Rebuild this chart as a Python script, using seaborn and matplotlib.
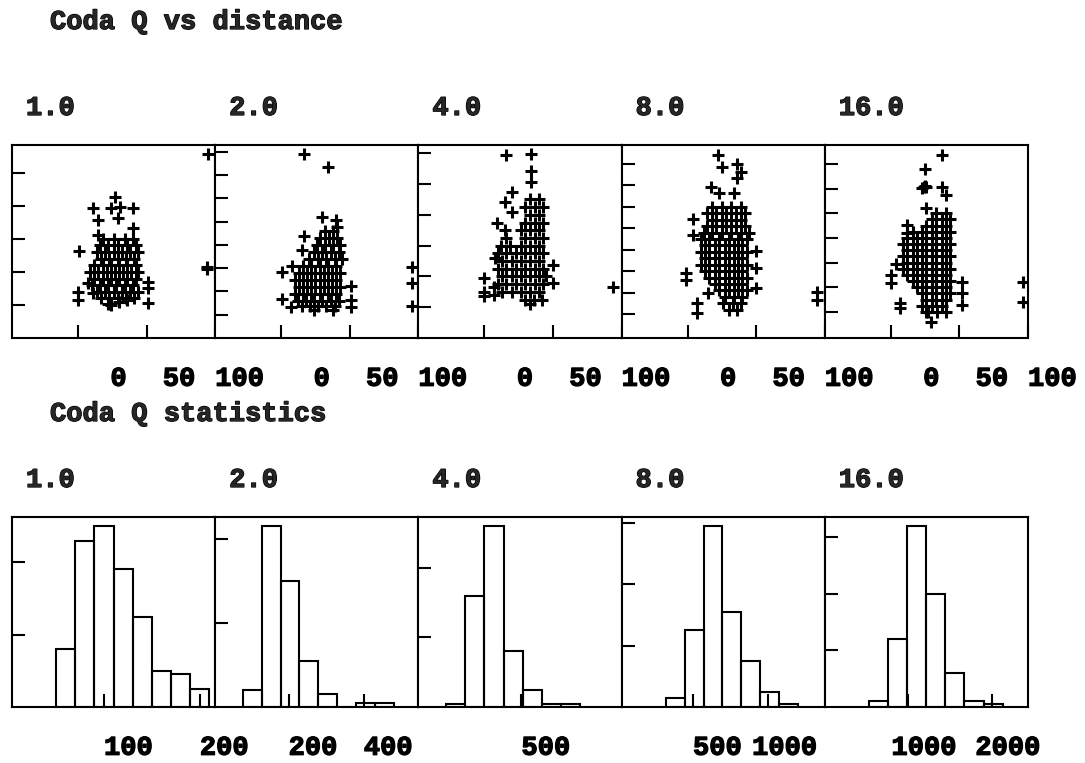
import matplotlib
matplotlib.use("Agg")
import numpy as np
import pandas as pd
import matplotlib.pyplot as plt
import matplotlib.transforms as mtrans
import matplotlib.patheffects as pe
import seaborn as sns

freqs = ["1.0", "2.0", "4.0", "8.0", "16.0"]

# Coda Q vs distance: (distance, Q)
pts_1hz = [
    (0.5, 132), (0, 70), (0, 58), (7, 83), (11, 68), (51, 85), (51, 76), (51, 53),
    (95, 279), (94, 108), (94, 104),
    (27, 214), (11, 197), (24, 197), (31, 198), (40, 197), (15, 179), (29, 182),
    (40, 167), (15, 156), (22, 52), (24, 50), (30, 55), (36, 58),
    (18, 150), (26, 150), (34, 150), (40, 150),
    (16, 140), (22, 140), (29, 140), (36, 140), (42, 140),
    (14, 130), (20, 130), (26, 130), (32, 130), (38, 130), (44, 130),
    (17, 120), (23, 120), (29, 120), (35, 120), (41, 120),
    (12, 110), (18, 110), (24, 110), (30, 110), (36, 110), (42, 110),
    (9, 100), (15, 100), (21, 100), (27, 100), (33, 100), (39, 100), (44, 100),
    (12, 90), (18, 90), (24, 90), (30, 90), (36, 90), (42, 90),
    (10, 80), (16, 80), (22, 80), (28, 80), (34, 80), (40, 80),
    (14, 70), (20, 70), (26, 70), (32, 70), (38, 70), (44, 70),
    (17, 60), (23, 60), (29, 60), (35, 60), (41, 60),
]

pts_2hz = [
    (17, 395), (34, 367), (17, 219), (1, 142), (1, 84), (7, 67), (51, 112), (51, 82),
    (51, 67), (95, 152), (95, 118), (95, 69), (8, 155), (15, 189), (30, 260),
    (40, 253), (41, 238),
    (32, 230), (38, 230),
    (28, 215), (35, 215), (41, 215),
    (26, 200), (32, 200), (38, 200), (43, 200),
    (24, 185), (30, 185), (36, 185), (42, 185),
    (20, 170), (27, 170), (33, 170), (39, 170), (44, 170),
    (16, 155), (22, 155), (28, 155), (34, 155), (40, 155),
    (13, 140), (19, 140), (25, 140), (31, 140), (37, 140), (43, 140),
    (10, 125), (16, 125), (22, 125), (28, 125), (34, 125), (40, 125),
    (13, 110), (19, 110), (25, 110), (31, 110), (37, 110), (43, 110),
    (10, 95), (16, 95), (22, 95), (28, 95), (34, 95), (40, 95),
    (12, 80), (18, 80), (24, 80), (30, 80), (36, 80), (42, 80),
    (15, 68), (21, 68), (27, 68), (33, 68), (39, 68),
    (24, 60), (38, 60),
]

pts_4hz = [
    (16, 594), (34, 597), (34, 542), (34, 506), (20, 474), (15, 442), (20, 409),
    (0, 195), (0, 149), (0, 136), (7, 166), (7, 140), (50, 237), (50, 179),
    (94, 166), (8, 260), (9, 373), (15, 351),
    (33, 450), (40, 450),
    (30, 425), (37, 425), (43, 425),
    (33, 400), (40, 400),
    (30, 375), (37, 375), (43, 375),
    (27, 350), (33, 350), (40, 350),
    (16, 325), (30, 325), (37, 325), (43, 325),
    (12, 300), (19, 300), (27, 300), (33, 300), (40, 300),
    (10, 275), (16, 275), (23, 275), (30, 275), (37, 275), (43, 275),
    (13, 250), (20, 250), (27, 250), (33, 250), (40, 250),
    (10, 225), (16, 225), (23, 225), (30, 225), (37, 225), (43, 225),
    (13, 200), (20, 200), (27, 200), (33, 200), (40, 200), (45, 200),
    (10, 175), (16, 175), (23, 175), (30, 175), (37, 175), (43, 175),
    (13, 150), (20, 150), (27, 150), (33, 150), (40, 150),
    (30, 125), (36, 125), (42, 125),
    (33, 110),
]

pts_8hz = [
    (22, 942), (25, 886), (36, 900), (39, 863), (36, 835), (17, 793), (23, 765),
    (34, 765), (4, 643), (4, 569), (12, 578), (-1, 391), (-1, 359), (15, 298),
    (7, 251), (7, 205), (50, 494), (50, 415), (50, 321), (94, 303), (94, 265),
    (18, 700), (25, 700), (32, 700), (39, 700),
    (14, 670), (21, 670), (28, 670), (35, 670), (42, 670),
    (18, 640), (25, 640), (32, 640), (39, 640),
    (14, 610), (21, 610), (28, 610), (35, 610), (42, 610),
    (18, 580), (25, 580), (32, 580), (39, 580), (45, 580),
    (10, 550), (16, 550), (23, 550), (30, 550), (37, 550), (43, 550),
    (13, 520), (20, 520), (27, 520), (34, 520), (40, 520),
    (10, 490), (16, 490), (23, 490), (30, 490), (37, 490), (43, 490),
    (13, 460), (20, 460), (27, 460), (34, 460), (40, 460),
    (10, 430), (16, 430), (23, 430), (30, 430), (37, 430), (43, 430),
    (13, 400), (20, 400), (27, 400), (34, 400), (40, 400),
    (16, 370), (23, 370), (30, 370), (37, 370), (43, 370),
    (20, 340), (27, 340), (34, 340), (40, 340),
    (23, 310), (30, 310), (37, 310), (43, 310),
    (27, 280), (34, 280), (40, 280),
    (26, 250), (33, 250), (39, 250),
    (30, 220), (36, 220),
]

pts_16hz = [
    (37, 1473), (25, 1359), (24, 1214), (25, 1220), (23, 1208), (26, 1214),
    (37, 1214), (40, 1149), (26, 1043), (12, 905), (12, 841), (4, 589), (0, 500),
    (0, 435), (7, 273), (7, 232), (52, 443), (52, 354), (52, 257), (96, 443),
    (96, 281), (29, 119), (26, 200),
    (33, 1000), (40, 1000),
    (30, 950), (37, 950), (43, 950),
    (26, 900), (33, 900), (40, 900),
    (16, 850), (23, 850), (30, 850), (37, 850), (43, 850),
    (12, 800), (19, 800), (26, 800), (33, 800), (40, 800),
    (9, 750), (16, 750), (23, 750), (30, 750), (37, 750), (43, 750),
    (12, 700), (19, 700), (26, 700), (33, 700), (40, 700),
    (9, 650), (16, 650), (23, 650), (30, 650), (37, 650), (43, 650),
    (12, 600), (19, 600), (26, 600), (33, 600), (40, 600),
    (9, 550), (16, 550), (23, 550), (30, 550), (37, 550), (43, 550),
    (12, 500), (19, 500), (26, 500), (33, 500), (40, 500),
    (16, 450), (23, 450), (30, 450), (37, 450), (43, 450),
    (19, 400), (26, 400), (33, 400), (40, 400),
    (23, 350), (30, 350), (37, 350), (43, 350),
    (26, 300), (33, 300), (40, 300),
    (23, 250), (30, 250), (37, 250),
    (27, 200), (34, 200), (40, 200),
]

scatter_pts = [pts_1hz, pts_2hz, pts_4hz, pts_8hz, pts_16hz]
dist_ticks = [0, 50, 100]
q_ylims = [(0, 292), (0, 415), (0, 627), (88, 989), (-11, 1554)]
q_yticks = [
    [50, 100, 150, 200, 250],
    [50, 100, 150, 200, 250, 300, 350, 400],
    [100, 200, 300, 400, 500, 600],
    [200, 300, 400, 500, 600, 700, 800, 900],
    [200, 400, 600, 800, 1000, 1200, 1400],
]

# Coda Q statistics: bin edges and counts per band
edges_1hz = [50, 70, 90, 110, 130, 150, 170, 190, 210]
counts_1hz = [16, 46, 50, 38, 25, 10, 9, 5]
edges_2hz = [79, 129, 179, 229, 279, 329, 379, 429, 479]
counts_2hz = [4, 43, 30, 11, 3, 0, 1, 1]
edges_4hz = [185, 265, 345, 425, 505, 585, 665, 745]
counts_4hz = [1, 32, 52, 16, 5, 1, 1]
edges_8hz = [320, 445, 570, 695, 820, 945, 1070, 1195]
counts_8hz = [3, 25, 59, 31, 15, 5, 1]
edges_16hz = [542, 769, 996, 1223, 1450, 1677, 1904, 2131]
counts_16hz = [2, 24, 64, 40, 12, 2, 1]

hist_edges = [edges_1hz, edges_2hz, edges_4hz, edges_8hz, edges_16hz]
hist_counts = [counts_1hz, counts_2hz, counts_4hz, counts_8hz, counts_16hz]
hist_xlims = [(4, 216), (5, 545), (69, 919), (26, 1375), (12, 2434)]
hist_xticks = [[100, 200], [200, 400], [500], [500, 1000], [1000, 2000]]
hist_yticks = [[20, 40], [20, 40], [20, 40], [20, 40, 60], [20, 40, 60]]

sns.set_style("white")
plt.rcParams['font.family'] = ['Liberation Mono', 'DejaVu Sans Mono']
plt.rcParams['font.weight'] = 'bold'
FS = 19.5
LW = 1.5
heavy = [pe.withStroke(linewidth=0.9, foreground='black')]

W, H = 1085, 763
fig = plt.figure(figsize=(W / 100, H / 100), dpi=100)

left_px, right_px = 12, 1028
pw = (right_px - left_px) / 5
# label right edge sits three character cells past the tick
label_shift = mtrans.ScaledTranslation(3 * 0.6 * FS / 72, 0, fig.dpi_scale_trans)


def style_axis(ax, xticks, yticks):
    ax.set_xticks(xticks)
    ax.set_xticklabels([str(t) for t in xticks])
    ax.set_yticks(yticks)
    ax.tick_params(direction='in', length=9.5, width=LW, labelsize=FS,
                   labelleft=False, pad=20, top=False, right=False,
                   left=True, bottom=True, colors='black')
    for lab in ax.get_xticklabels():
        lab.set_horizontalalignment('right')
        lab.set_transform(lab.get_transform() + label_shift)
        lab.set_path_effects(heavy)
    for sp in ax.spines.values():
        sp.set_linewidth(LW)
        sp.set_color('black')
    ax.set_xlabel('')
    ax.set_ylabel('')


# top row: Q vs distance
for i, pts in enumerate(scatter_pts):
    x0 = left_px + i * pw
    ax = fig.add_axes([x0 / W, (H - 338) / H, pw / W, 193 / H])
    df = pd.DataFrame(pts, columns=['distance', 'Q'])
    sns.scatterplot(data=df, x='distance', y='Q', ax=ax, marker='+', color='black',
                    s=64, linewidth=2.2, legend=False)
    ax.set_xlim(-48, 100)
    ax.set_ylim(*q_ylims[i])
    style_axis(ax, dist_ticks, q_yticks[i])
    fig.text((x0 + 14) / W, 1 - 115 / H, freqs[i], fontsize=FS, va='baseline',
             path_effects=heavy)

# bottom row: Q histograms
for i in range(5):
    x0 = left_px + i * pw
    ax = fig.add_axes([x0 / W, (H - 707) / H, pw / W, 190 / H])
    edges = hist_edges[i]
    sns.histplot(x=edges[:-1], weights=hist_counts[i], bins=edges, ax=ax,
                 fill=False, element='bars', color='black', linewidth=LW)
    ax.set_xlim(*hist_xlims[i])
    ax.set_ylim(0, max(hist_counts[i]) * 1.05)
    style_axis(ax, hist_xticks[i], hist_yticks[i])
    fig.text((x0 + 14) / W, 1 - 487 / H, freqs[i], fontsize=FS, va='baseline',
             path_effects=heavy)

fig.text(50 / W, 1 - 29 / H, "Coda Q vs distance", fontsize=FS, va='baseline',
         path_effects=heavy)
fig.text(50 / W, 1 - 421 / H, "Coda Q statistics", fontsize=FS, va='baseline',
         path_effects=heavy)

fig.savefig("out.png", dpi=100, facecolor='white')
